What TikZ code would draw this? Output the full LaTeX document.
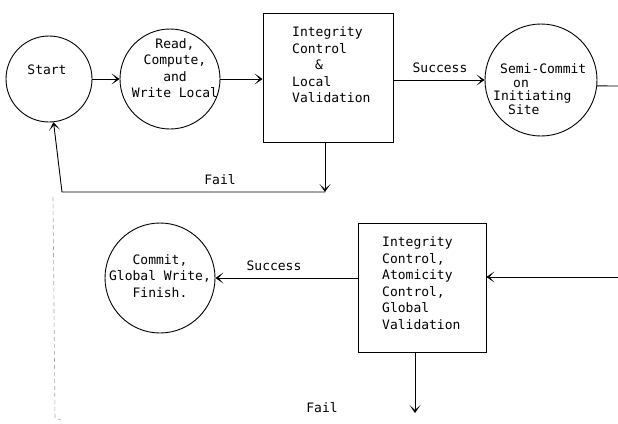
\documentclass[tikz,border=0pt]{standalone}
\usepackage{fontspec}
\setmainfont{DejaVu Sans Mono}
\usetikzlibrary{arrows.meta,calc}
\tikzset{
  ln/.style={line width=0.9pt, black},
  arr/.style={ln, -{Stealth[length=8pt,width=11pt,inset=5pt]}},
  stcircle/.style={draw, ln, circle, inner sep=0pt},
  stbox/.style={draw, ln, rectangle, inner sep=0pt},
  txt/.style={inner sep=0pt, font=\fontsize{13}{16.5}\selectfont},
}
\begin{document}
\begin{tikzpicture}[x=1pt,y=-1pt]
\useasboundingbox (0,0) rectangle (618,423);
% upper row
\node[stcircle, minimum size=86pt] (start) at (49,79) {};
\node[txt] (startt) at (47,70) {Start};
\node[stcircle, minimum size=100pt] (read) at (170,79) {};
\node[txt, align=center] (readt) at (175,68) {Read,\\Compute,\\and\\Write Local};
\node[stbox, minimum width=130pt, minimum height=129pt] (box1) at (328,77.5) {};
\node[txt, align=left, anchor=west] (box1t) at (292,65) {Integrity\\Control\\\hspace*{23pt}\&\\Local\\Validation};
\node[stcircle, minimum size=112pt] (semi) at (541,80) {};
\node[txt, align=left, anchor=west, font=\fontsize{13}{13.5}\selectfont] (semit) at (493,89) {\hspace*{7pt}Semi-Commit\\\hspace*{20pt}on\\Initiating\\\hspace*{15pt}Site};
\coordinate (out1) at (618,86);
\coordinate (f1) at (325,192);
\coordinate (f2) at (62,192);
\node[txt] (fail1) at (220,180) {Fail};
\node[txt] (succ1) at (440,68) {Success};
% lower row
\node[stbox, minimum width=128pt, minimum height=129pt] (box2) at (422,287.5) {};
\node[txt, align=left, anchor=west] (box2t) at (382,283) {Integrity\\Control,\\Atomicity\\Control,\\Global\\Validation};
\node[stcircle, minimum size=110pt] (commit) at (160,278) {};
\node[txt, align=center] (committ) at (160,276) {Commit,\\Global Write,\\Finish.};
\coordinate (in2) at (618,277);
\coordinate (fail2) at (415,413);
\node[txt] (succ2) at (274,266) {Success};
\node[txt] (fail2t) at (322,408) {Fail};
\coordinate (d1) at (53,197);
\coordinate (d2) at (55,418);
\coordinate (d3) at (61,420);
% connectors
\draw[arr] (start.east) -- (read.west);
\draw[arr] (read.east) -- (read.east -| box1.west);
\draw[arr] (box1.east |- semi.west) -- (semi.west);
\draw[ln] (semi.-6) -- (out1);
\draw[arr] (box1.south -| f1) -- (f1);
\draw[arr] (f1) -- (f2) -- (start.-84);
\draw[arr] (in2) -- (in2 -| box2.east);
\draw[arr] (box2.west |- commit.east) -- (commit.east);
\draw[arr] (box2.south -| fail2) -- (fail2);
\draw[line width=0.6pt, gray!70, dash pattern=on 4pt off 3pt] (d1) -- (d2) -- (d3);
\end{tikzpicture}
\end{document}
